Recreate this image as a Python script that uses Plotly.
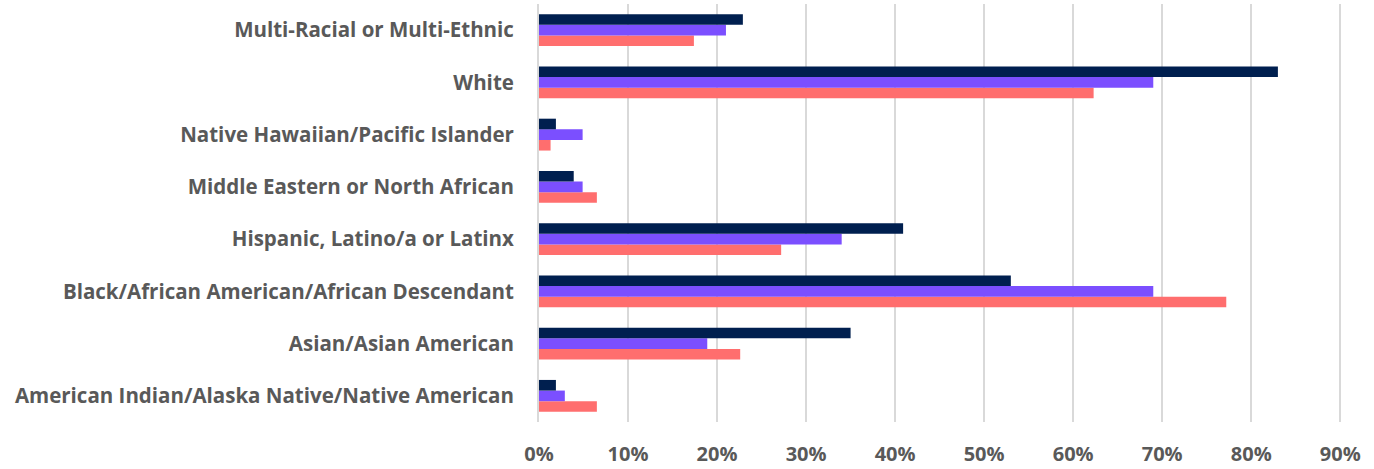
import plotly.graph_objects as go

categories = [
    "American Indian/Alaska Native/Native American",
    "Asian/Asian American",
    "Black/African American/African Descendant",
    "Hispanic, Latino/a or Latinx",
    "Middle Eastern or North African",
    "Native Hawaiian/Pacific Islander",
    "White",
    "Multi-Racial or Multi-Ethnic",
]
# series values (fractions), listed bottom category first
series_red = [0.065, 0.226, 0.772, 0.272, 0.065, 0.013, 0.623, 0.174]
series_purple = [0.029, 0.189, 0.690, 0.340, 0.049, 0.049, 0.690, 0.210]
series_navy = [0.019, 0.350, 0.530, 0.409, 0.039, 0.019, 0.830, 0.229]
tick_vals = [0, 0.1, 0.2, 0.3, 0.4, 0.5, 0.6, 0.7, 0.8, 0.9]
tick_text = ["0%", "10%", "20%", "30%", "40%", "50%", "60%", "70%", "80%", "90%"]

fig = go.Figure()
for vals, color, name in [
    (series_red, "#ff6e6e", "Series 3"),
    (series_purple, "#7b4fff", "Series 2"),
    (series_navy, "#001f4f", "Series 1"),
]:
    fig.add_trace(go.Bar(
        y=categories, x=vals, orientation="h", name=name,
        marker=dict(color=color, line=dict(width=0)),
    ))

font_family = "'Open Sans', sans-serif"
fig.update_layout(
    barmode="group",
    bargap=0.39,
    bargroupgap=0,
    showlegend=False,
    width=1374,
    height=469,
    margin=dict(l=539, r=32, t=4, b=47),
    plot_bgcolor="white",
    paper_bgcolor="white",
    font=dict(family=font_family, color="#595959"),
    xaxis=dict(
        range=[0, 0.902],
        automargin=False,
        tickvals=tick_vals,
        ticktext=tick_text,
        showgrid=True,
        gridcolor="#d9d9d9",
        gridwidth=2,
        zeroline=False,
        tickfont=dict(size=20, family=font_family, color="#595959", weight="bold"),
        ticks="",
        ticklabelstandoff=18,
    ),
    yaxis=dict(
        automargin=False,
        showgrid=False,
        showline=True,
        linecolor="#d9d9d9",
        linewidth=2,
        ticks="",
        ticklabelstandoff=19,
        tickfont=dict(size=20.5, family=font_family, color="#595959", weight="bold"),
    ),
)

fig.write_html(
    "out.html",
    config={"displayModeBar": False},
    post_script="document.body.style.margin='0';",
)
